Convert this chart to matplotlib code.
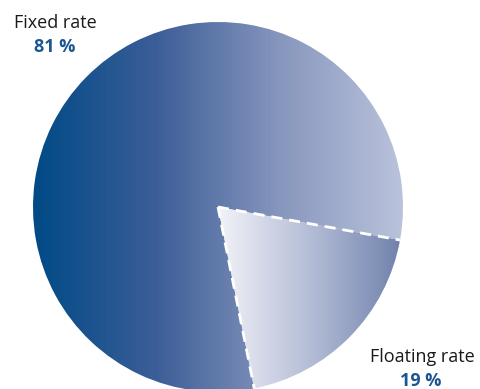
import numpy as np
import matplotlib.pyplot as plt
from matplotlib.colors import LinearSegmentedColormap

labels = ['Fixed rate', 'Floating rate']
values = [81, 19]
pct_labels = ['81 %', '19 %']

fig = plt.figure(figsize=(4.81, 3.89), dpi=100)
ax = fig.add_axes([0, 0, 1, 1])

cx, cy, r = 218, 182, 185
wedges, _ = ax.pie(values, center=(cx, cy), radius=r, startangle=-10.3,
                   counterclock=True, frame=True,
                   wedgeprops={'facecolor': 'none', 'edgecolor': 'none'})
ax.set_xlim(0, 481)
ax.set_ylim(0, 389)
ax.set_aspect('auto')
ax.axis('off')

big_cmap = LinearSegmentedColormap.from_list('big', ['#004a86', '#3c5e98', '#8796bd', '#bac3db'])
small_cmap = LinearSegmentedColormap.from_list('small', ['#f2f3f9', '#b4bdd6', '#6e80ab'])
grad = np.linspace(0, 1, 256).reshape(1, -1)

# big slice spans the whole pie width, small slice from center to rim
im1 = ax.imshow(grad, cmap=big_cmap, extent=(cx - r, cx + r, cy - r, cy + r),
                aspect='auto', zorder=1)
im1.set_clip_path(wedges[0])
im2 = ax.imshow(grad, cmap=small_cmap, extent=(cx, cx + r, cy - r, cy + r),
                aspect='auto', zorder=1)
im2.set_clip_path(wedges[1])

# dashed white radial borders of the small slice
for th in (wedges[1].theta1, wedges[1].theta2):
    t = np.radians(th)
    ax.plot([cx, cx + r * np.cos(t)], [cy, cy + r * np.sin(t)], color='white',
            lw=2, ls=(0, (4, 2.5)), zorder=3, solid_capstyle='butt')

font = 'Open Sans'
fs = 13
ax.text(55, 366, labels[0], ha='center', va='center', fontsize=fs,
        family=font, color='#1a1a1a')
ax.text(55, 342, pct_labels[0], ha='center', va='center', fontsize=fs,
        family=font, weight='bold', color='#1b5592')
ax.text(422, 32, labels[1], ha='center', va='center', fontsize=fs,
        family=font, color='#1a1a1a')
ax.text(421, 8, pct_labels[1], ha='center', va='center', fontsize=fs,
        family=font, weight='bold', color='#1b5592')

fig.savefig('out.png', dpi=100)
